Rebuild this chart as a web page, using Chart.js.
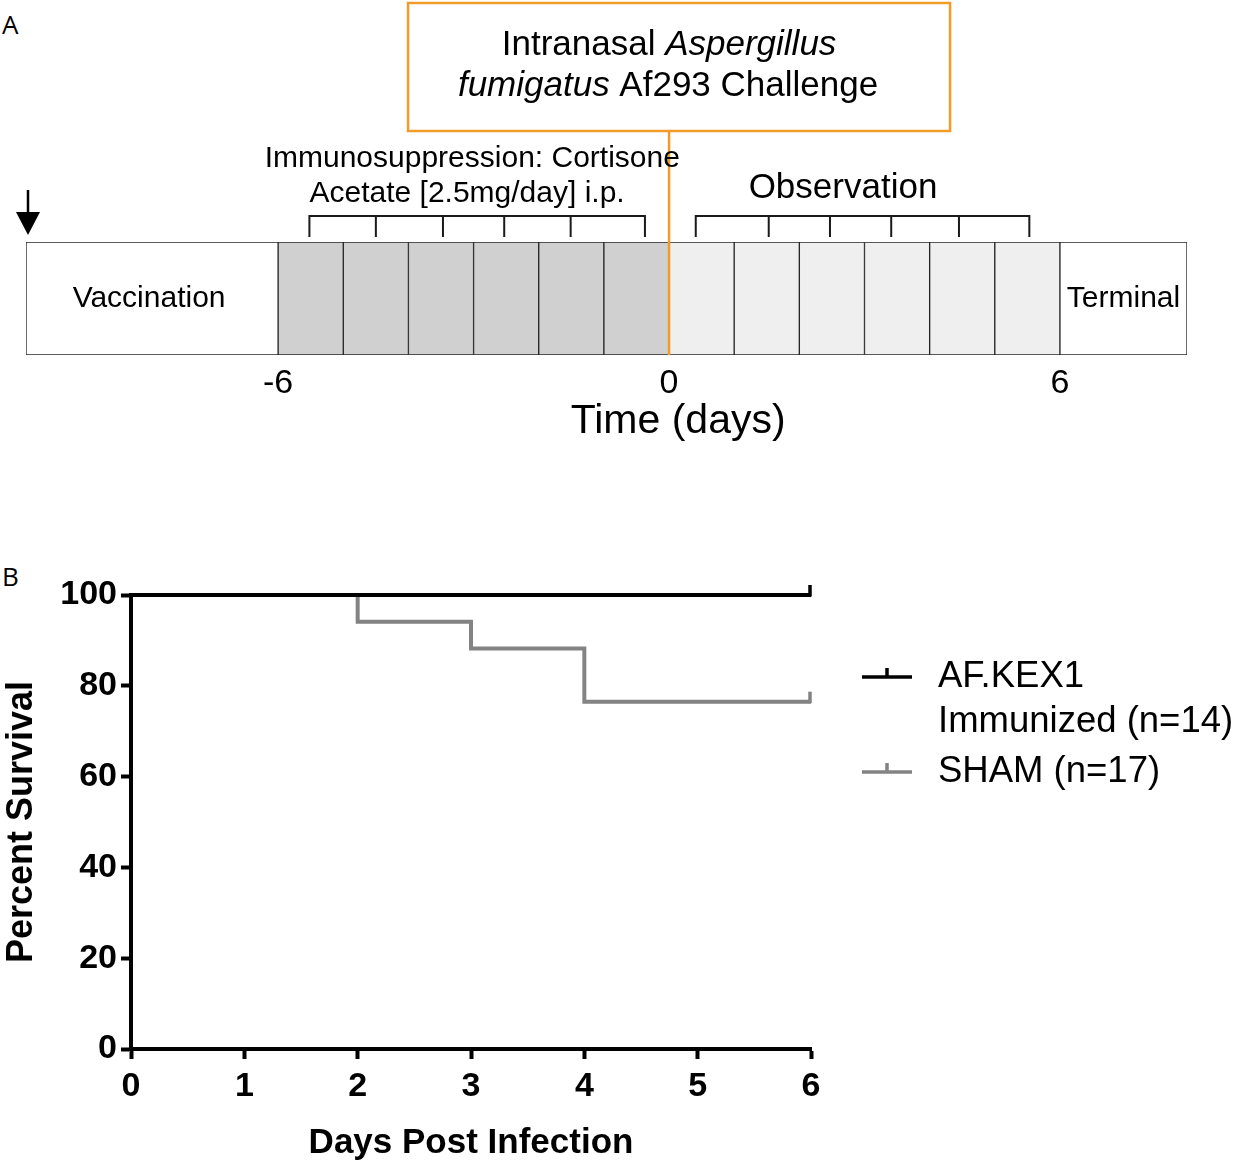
<!DOCTYPE html>
<html>
<head>
<meta charset="utf-8">
<script src="https://cdn.jsdelivr.net/npm/chart.js@4.4.1/dist/chart.umd.min.js"></script>
<style>
  body { margin: 0; background: #fff; width: 1234px; height: 1166px; position: relative; overflow: hidden; }
  .panel { position: absolute; left: 0; width: 1234px; }
  #panelA { top: 0; height: 470px; }
  #panelB { top: 470px; height: 696px; }
  .tag { position: absolute; left: 2px; font-family: "Open Sans", sans-serif; font-size: 26px; line-height: 26px; color: #000; }
</style>
</head>
<body>
<div class="tag" style="top:11px">A</div>
<div class="tag" style="top:563px">B</div>
<div class="panel" id="panelA"><canvas id="timeline"></canvas></div>
<div class="panel" id="panelB"><canvas id="survival"></canvas></div>

<script>
// ---- panel A : study timeline (days relative to challenge) ----
const cellEdges = [-9.87, -6, -5, -4, -3, -2, -1, 0, 1, 2, 3, 4, 5, 6, 7.95];
const cellPhases = ["Vaccination",
  "Immunosuppression", "Immunosuppression", "Immunosuppression",
  "Immunosuppression", "Immunosuppression", "Immunosuppression",
  "Observation", "Observation", "Observation",
  "Observation", "Observation", "Observation",
  "Terminal"];
const timeTicks = [-6, 0, 6];
const doseDays = [-5.52, -4.5, -3.47, -2.53, -1.51, -0.37];
const observeDays = [0.41, 1.53, 2.47, 3.41, 4.45, 5.53];
const challengeDay = 0;

// ---- panel B : survival ----
const kexDays = [0, 6];
const kexSurvival = [100, 100];
const shamDays = [0, 2, 3, 4, 6];
const shamSurvival = [100, 94.1, 88.2, 76.5, 76.5];
const survivalTicksX = [0, 1, 2, 3, 4, 5, 6];
const survivalTicksY = [0, 20, 40, 60, 80, 100];
const seriesLabels = [["AF.KEX1", "Immunized (n=14)"], ["SHAM (n=17)"]];

const FONT = "'Liberation Sans', Arial, sans-serif";
const ORANGE = "#f29b28";
const phaseColors = {
  Vaccination: "#ffffff",
  Immunosuppression: "#d0d0d0",
  Observation: "#efefef",
  Terminal: "#ffffff"
};

function bracket(ctx, xs, top, bottom) {
  ctx.beginPath();
  ctx.moveTo(xs[0], bottom);
  ctx.lineTo(xs[0], top);
  ctx.lineTo(xs[xs.length - 1], top);
  ctx.lineTo(xs[xs.length - 1], bottom);
  for (let i = 1; i < xs.length - 1; i++) {
    ctx.moveTo(xs[i], top);
    ctx.lineTo(xs[i], bottom);
  }
  ctx.stroke();
}

// draws a line of text made of [text, italic] pieces centred on cx
function mixedText(ctx, parts, cx, cy, size) {
  let widths = parts.map(p => {
    ctx.font = (p[1] ? "italic " : "") + size + "px " + FONT;
    return ctx.measureText(p[0]).width;
  });
  let x = cx - widths.reduce((a, b) => a + b, 0) / 2;
  parts.forEach((p, i) => {
    ctx.font = (p[1] ? "italic " : "") + size + "px " + FONT;
    ctx.fillText(p[0], x, cy);
    x += widths[i];
  });
}

const timelineDecor = {
  id: "timelineDecor",
  afterDraw(chart) {
    const { ctx, chartArea: a, scales: { x } } = chart;
    const px = d => x.getPixelForValue(d);
    ctx.save();
    ctx.fillStyle = "#000";
    ctx.textBaseline = "middle";

    // challenge box + line
    const cx = px(challengeDay);
    ctx.strokeStyle = ORANGE;
    ctx.lineWidth = 2.5;
    ctx.strokeRect(cx - 261, 3, 542, 128);
    ctx.beginPath();
    ctx.moveTo(cx, 131);
    ctx.lineTo(cx, a.bottom);
    ctx.stroke();
    ctx.textAlign = "left";
    mixedText(ctx, [["Intranasal ", false], ["Aspergillus", true]], cx, 45, 35);
    mixedText(ctx, [["fumigatus", true], [" Af293 Challenge", false]], cx - 1, 86, 35);

    // brackets
    ctx.strokeStyle = "#1a1a1a";
    ctx.lineWidth = 2;
    bracket(ctx, doseDays.map(px), 216, 237);
    bracket(ctx, observeDays.map(px), 216, 237);

    ctx.textAlign = "center";
    ctx.font = "30px " + FONT;
    ctx.fillText("Immunosuppression: Cortisone", px(-3.02), 159);
    ctx.fillText("Acetate [2.5mg/day] i.p.", px(-3.1), 194);
    ctx.font = "35px " + FONT;
    ctx.fillText("Observation", px(2.67), 188);

    // phase names inside the end cells
    ctx.font = "30px " + FONT;
    ctx.fillText("Vaccination", (px(cellEdges[0]) + px(cellEdges[1])) / 2 - 3, (a.top + a.bottom) / 2);
    const n = cellEdges.length;
    ctx.fillText("Terminal", (px(cellEdges[n - 2]) + px(cellEdges[n - 1])) / 2, (a.top + a.bottom) / 2);

    // axis title
    ctx.font = "41px " + FONT;
    ctx.fillText("Time (days)", px(0.14), 422);

    // vaccination arrow
    ctx.strokeStyle = "#000";
    ctx.lineWidth = 2.5;
    ctx.beginPath();
    ctx.moveTo(28, 190);
    ctx.lineTo(28, 214);
    ctx.stroke();
    ctx.beginPath();
    ctx.moveTo(16, 212);
    ctx.lineTo(40, 212);
    ctx.lineTo(28, 235);
    ctx.closePath();
    ctx.fill();
    ctx.restore();
  }
};

const cells = cellEdges.slice(0, -1).map((d, i) => ({ x: [d, cellEdges[i + 1]], y: "timeline" }));

new Chart(document.getElementById("timeline"), {
  type: "bar",
  data: {
    labels: ["timeline"],
    datasets: [{
      data: cells,
      backgroundColor: cellPhases.map(p => phaseColors[p]),
      borderColor: "#262626",
      borderWidth: 1,
      borderSkipped: false,
      barPercentage: 1,
      categoryPercentage: 1
    }]
  },
  options: {
    indexAxis: "y",
    responsive: true,
    maintainAspectRatio: false,
    animation: false,
    events: [],
    layout: { padding: { left: 26, right: 47, top: 242, bottom: 0 } },
    plugins: { legend: { display: false }, tooltip: { enabled: false } },
    scales: {
      x: {
        type: "linear",
        min: cellEdges[0],
        max: cellEdges[cellEdges.length - 1],
        grid: { display: false, drawTicks: false },
        border: { display: false },
        afterBuildTicks: s => { s.ticks = timeTicks.map(v => ({ value: v })); },
        afterFit: s => { s.height = 115; },
        ticks: { font: { family: FONT, size: 34 }, color: "#000", padding: 8, maxRotation: 0, autoSkip: false }
      },
      y: { display: false }
    }
  },
  plugins: [timelineDecor]
});

// ---- panel B chart ----
const survivalDecor = {
  id: "survivalDecor",
  afterDatasetsDraw(chart) {
    const { ctx, scales: { x, y } } = chart;
    ctx.save();
    ctx.lineWidth = 3.5;
    chart.data.datasets.forEach(ds => {
      const last = ds.data[ds.data.length - 1];
      const cx = x.getPixelForValue(last.x) - 1;
      const cy = y.getPixelForValue(last.y);
      ctx.strokeStyle = ds.borderColor;
      ctx.beginPath();
      ctx.moveTo(cx, cy + 1.5);
      ctx.lineTo(cx, cy - 10);
      ctx.stroke();
    });
    ctx.restore();
  },
  afterDraw(chart) {
    const { ctx, chartArea: a } = chart;
    ctx.save();
    ctx.font = "36.5px " + FONT;
    ctx.fillStyle = "#000";
    ctx.textBaseline = "middle";
    ctx.textAlign = "left";
    const rows = [[207, 252], [302]];
    chart.data.datasets.forEach((ds, i) => {
      const ly = rows[i][0];
      const lx = a.right + 51;
      ctx.strokeStyle = ds.borderColor;
      ctx.lineWidth = 3.5;
      ctx.beginPath();
      ctx.moveTo(lx, ly);
      ctx.lineTo(lx + 50, ly);
      ctx.moveTo(lx + 25, ly);
      ctx.lineTo(lx + 25, ly - 9);
      ctx.stroke();
      seriesLabels[i].forEach((t, j) => ctx.fillText(t, a.right + 127, rows[i][j]));
    });
    ctx.restore();
  }
};

const axisStyle = {
  grid: { drawOnChartArea: false, drawTicks: true, tickLength: 10, tickWidth: 4, tickColor: "#000" },
  border: { color: "#000", width: 4 }
};

new Chart(document.getElementById("survival"), {
  type: "line",
  data: {
    datasets: [
      {
        label: seriesLabels[0].join(" "),
        data: kexDays.map((d, i) => ({ x: d, y: kexSurvival[i] })),
        borderColor: "#000000",
        borderWidth: 4,
        stepped: "before",
        pointRadius: 0,
        clip: false
      },
      {
        label: seriesLabels[1].join(" "),
        data: shamDays.map((d, i) => ({ x: d, y: shamSurvival[i] })),
        borderColor: "#838383",
        borderWidth: 4,
        stepped: "before",
        pointRadius: 0,
        clip: false
      }
    ]
  },
  options: {
    responsive: true,
    maintainAspectRatio: false,
    animation: false,
    events: [],
    layout: { padding: { left: 0, right: 423, top: 125, bottom: 0 } },
    plugins: { legend: { display: false }, tooltip: { enabled: false } },
    scales: {
      x: {
        type: "linear",
        min: 0,
        max: 6,
        ...axisStyle,
        afterBuildTicks: s => { s.ticks = survivalTicksX.map(v => ({ value: v })); },
        afterFit: s => { s.height = 117; },
        ticks: { font: { family: FONT, size: 34, weight: "bold" }, color: "#000", padding: 7, maxRotation: 0 },
        title: { display: true, text: "Days Post Infection", color: "#000",
                 font: { family: FONT, size: 35, weight: "bold" }, padding: { top: 0, bottom: 2 } }
      },
      y: {
        type: "linear",
        min: 0,
        max: 100,
        ...axisStyle,
        afterBuildTicks: s => { s.ticks = survivalTicksY.map(v => ({ value: v })); },
        afterFit: s => { s.width = 131; },
        ticks: { font: { family: FONT, size: 34, weight: "bold" }, color: "#000", padding: 4 },
        title: { display: true, text: "Percent Survival", color: "#000",
                 font: { family: FONT, size: 36, weight: "bold" }, padding: { top: 0, bottom: 0 } }
      }
    }
  },
  plugins: [survivalDecor]
});
</script>
</body>
</html>
